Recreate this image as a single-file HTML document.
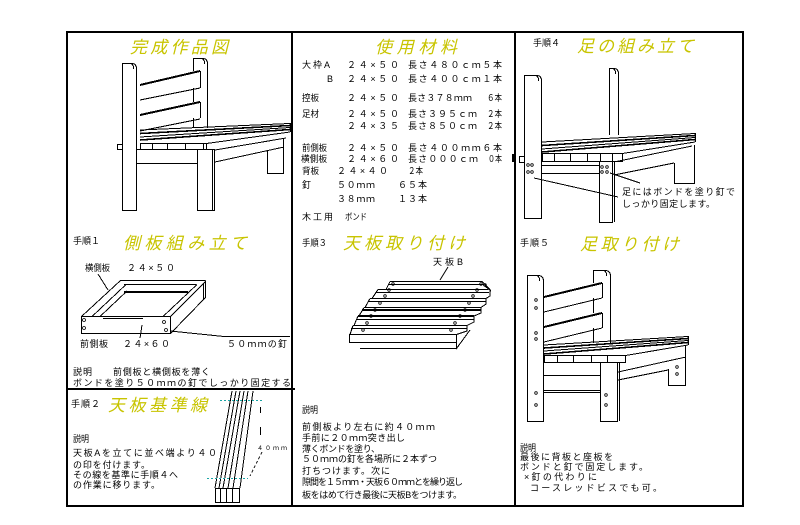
<!DOCTYPE html>
<html><head><meta charset="utf-8">
<style>
html,body{margin:0;padding:0;background:#fff;}
svg{display:block;}
text{font-family:"Liberation Sans","Noto Sans CJK JP",sans-serif;font-size:9px;fill:#000;}
.t{font-size:17px;font-style:italic;fill:#c8c400;}
</style></head><body>
<svg width="800" height="525" viewBox="0 0 800 525" xmlns="http://www.w3.org/2000/svg">
<rect width="800" height="525" fill="#fff"/>
<!-- frame -->
<g fill="none" stroke="#000" stroke-width="2">
<rect x="67" y="32" width="676" height="474"/>
<line x1="292" y1="32" x2="292" y2="506"/>
<line x1="515" y1="32" x2="515" y2="506"/>
<line x1="67" y1="389" x2="295" y2="389"/>
</g>
<rect x="512" y="154" width="3" height="8" fill="#000"/>

<g fill="none" stroke="#000" stroke-width="1" shape-rendering="crispEdges">
<!-- ===== Panel 1 chair ===== -->
<path d="M122.5,210.5V63.5H132Q136.5,63.5 136.5,69V210.5Z"/>
<path d="M131,63.5Q134,65 133.5,69"/>
<rect x="117.5" y="144.5" width="5" height="5"/>
<path d="M193.5,71V58.5H203Q207.5,58.5 207.5,64V128"/>
<path d="M202,58.5Q205,60 204.5,64"/>
<line x1="140" y1="85" x2="200" y2="71" stroke-width="2"/>
<path d="M200.5,71V88"/>
<line x1="140" y1="100" x2="200" y2="88"/>
<line x1="140" y1="115" x2="200" y2="102" stroke-width="2"/>
<path d="M200.5,102V118"/>
<line x1="140" y1="131" x2="200" y2="119"/>
<path d="M193.5,88V102M193.5,118V128"/>
<line x1="140" y1="130" x2="290" y2="123.5"/>
<line x1="140" y1="133.5" x2="290" y2="125.5" stroke-width="1.6"/>
<line x1="140" y1="137" x2="290" y2="127.5"/>
<line x1="140" y1="140" x2="290" y2="129.5" stroke-width="1.6"/>
<path d="M290.5,123V132"/>
<rect x="140.5" y="143.5" width="66" height="6"/>
<path d="M152.5,143.5V149.5M167.5,143.5V149.5M185.5,143.5V149.5M203.5,143.5V149.5"/>
<line x1="206.5" y1="143.5" x2="290" y2="132"/>
<line x1="215" y1="150" x2="286" y2="138"/>
<line x1="215" y1="162" x2="284" y2="147"/>
<rect x="197.5" y="149.5" width="17" height="61"/>
<path d="M212.5,150V210"/>
<path d="M267.5,150V173.5H283.5V138"/>
<path d="M137,163.5H197M137,149.5H197"/>

<!-- ===== Panel 3 chair (手順4) ===== -->
<path d="M524.5,218.5V75.5H537Q541.5,75.5 541.5,81V218.5Z"/>
<path d="M536,75.5Q539,77 538.5,81"/>
<rect x="519.5" y="156.5" width="5" height="6"/>
<path d="M609.5,135V68.5H614Q618.5,68.5 618.5,74V135"/>
<path d="M613,68.5Q616,70 615.5,74"/>
<line x1="542" y1="142" x2="695" y2="133.5"/>
<line x1="542" y1="145.5" x2="695" y2="135.5" stroke-width="1.6"/>
<line x1="542" y1="149" x2="695" y2="137.5"/>
<line x1="542" y1="152" x2="695" y2="139.5" stroke-width="1.6"/>
<path d="M695.5,133V142"/>
<rect x="542.5" y="153.5" width="80" height="8"/>
<path d="M554.5,153.5V161.5M570.5,153.5V161.5M587.5,153.5V161.5M600.5,153.5V161.5M612.5,153.5V161.5"/>
<line x1="622.5" y1="153.5" x2="695" y2="142"/>
<line x1="614" y1="162" x2="692" y2="146"/>
<line x1="614" y1="175" x2="674" y2="163"/>
<rect x="599.5" y="161.5" width="13" height="61"/>
<path d="M614.5,162V222"/>
<path d="M674.5,163V183.5H694.5V145"/>
<path d="M541.5,165.5H599.5M541.5,173.5H599.5"/>
<line x1="534" y1="178" x2="618" y2="197"/>
<line x1="610" y1="173" x2="640" y2="183"/>

<!-- ===== Panel 手順5 chair ===== -->
<path d="M527.5,421.5V275.5H538Q543.5,275.5 543.5,281V421.5Z"/>
<path d="M537,275.5Q540,277 539.5,281"/>
<path d="M593.5,283V270.5H605Q610.5,270.5 610.5,276V343"/>
<path d="M604,270.5Q607,272 606.5,276"/>
<line x1="544" y1="297" x2="602" y2="283" stroke-width="2"/>
<path d="M602.5,283V298"/>
<line x1="544" y1="312" x2="602" y2="298"/>
<line x1="544" y1="327" x2="602" y2="313" stroke-width="2"/>
<path d="M602.5,313V328"/>
<line x1="544" y1="342" x2="602" y2="328"/>
<path d="M593.5,298V313M593.5,328V343"/>
<line x1="544" y1="345" x2="688" y2="336.5"/>
<line x1="544" y1="348" x2="688" y2="338.5" stroke-width="1.6"/>
<line x1="544" y1="351" x2="688" y2="340.5"/>
<line x1="544" y1="354" x2="688" y2="342.5" stroke-width="1.6"/>
<path d="M688.5,336V345"/>
<rect x="544.5" y="355.5" width="81" height="7"/>
<path d="M557.5,355.5V362.5M573.5,355.5V362.5M591.5,355.5V362.5M607.5,355.5V362.5"/>
<line x1="625.5" y1="355.5" x2="688" y2="345"/>
<rect x="600.5" y="362.5" width="17" height="59"/>
<path d="M619.5,363V421"/>
<line x1="618" y1="372" x2="686" y2="357"/>
<line x1="618" y1="380" x2="668" y2="370"/>
<path d="M668.5,369V385.5H685.5V346"/>
<path d="M543,375.5H600M543,390.5H600M543,392.5H600"/>

<!-- ===== Panel 手順1 box ===== -->
<rect x="81.5" y="316.5" width="89" height="17"/>
<path d="M170.5,316.5L205.5,281.5V297.5L170.5,333.5"/>
<path d="M81.5,316.5L120.5,280.5H205.5"/>
<path d="M124,284.5H196"/>
<line x1="124" y1="292" x2="188" y2="292" stroke-width="2"/>
<line x1="92" y1="316.5" x2="126" y2="284.5"/>
<line x1="100" y1="316.5" x2="127" y2="291"/>
<line x1="163" y1="316.5" x2="197" y2="284.5"/>
<line x1="103" y1="318.5" x2="143" y2="318.5"/>
<path d="M203.5,284V299"/>
<line x1="98" y1="274" x2="108" y2="290"/>
<line x1="142" y1="325" x2="140" y2="338"/>
<path d="M170,331L224,336.5H290"/>

<!-- ===== Panel 手順2 boards ===== -->
<line x1="232" y1="391" x2="215" y2="488"/>
<line x1="236" y1="391" x2="219" y2="488"/>
<line x1="240" y1="391" x2="223" y2="488"/>
<line x1="244" y1="391" x2="228" y2="488"/>
<line x1="248" y1="391" x2="233" y2="488"/>
<line x1="253" y1="391" x2="240" y2="488"/>
<rect x="215.5" y="488.5" width="24" height="14"/>
<path d="M220.5,488.5V502.5M226.5,488.5V502.5M232.5,488.5V502.5"/>
<path d="M260.5,407V413M260.5,427V435"/>
<line x1="262" y1="452" x2="250" y2="476" stroke-dasharray="3,2"/>

<!-- ===== Panel 手順3 boards ===== -->
<line x1="390" y1="281.5" x2="482" y2="281.5"/>
<line x1="388" y1="284.5" x2="483" y2="284.5"/>
<line x1="378" y1="289.5" x2="488" y2="289.5"/>
<line x1="376" y1="292.5" x2="489" y2="292.5"/>
<line x1="370" y1="298.5" x2="486" y2="298.5"/>
<line x1="368" y1="301.5" x2="486" y2="301.5"/>
<line x1="364" y1="307.5" x2="481" y2="307.5"/>
<line x1="362" y1="310" x2="481" y2="310" stroke-width="2"/>
<line x1="358" y1="316" x2="474" y2="316" stroke-width="2"/>
<line x1="356" y1="319.5" x2="474" y2="319.5"/>
<line x1="353" y1="325.5" x2="467" y2="325.5"/>
<line x1="351" y1="328.5" x2="467" y2="328.5"/>
<rect x="349.5" y="334.5" width="107" height="8"/>
<line x1="360" y1="348.5" x2="456" y2="348.5"/>
<path d="M390,281.5L386,289.5M378,289.5L372,298.5M370,298.5L365,307.5M364,307.5L359,316M358,316L354,325.5M353,325.5L350,334.5"/>
<path d="M482,281.5L490,289.5V296L486,298.5V304L481,307.5V313L474,316V322L467,325.5V331L456.5,334.5V348.5L470,330"/>
<path d="M483,284.5L491,291"/>
</g>

<!-- holes -->
<g fill="none" stroke="#000" stroke-width="0.8">
<circle cx="528" cy="165" r="1.3"/><circle cx="532" cy="165" r="1.3"/>
<circle cx="528" cy="172" r="1.3"/><circle cx="532" cy="172" r="1.3"/>
<circle cx="602" cy="167" r="1.3"/><circle cx="607" cy="167" r="1.3"/>
<circle cx="602" cy="172" r="1.3"/><circle cx="607" cy="172" r="1.3"/>
<circle cx="536" cy="300" r="1.3"/><circle cx="536" cy="308" r="1.3"/>
<circle cx="536" cy="333" r="1.3"/><circle cx="536" cy="339" r="1.3"/>
<circle cx="536" cy="393" r="1.3"/><circle cx="536" cy="405" r="1.3"/>
<circle cx="606" cy="395" r="1.3"/><circle cx="606" cy="405" r="1.3"/>
<circle cx="677" cy="367" r="1.3"/><circle cx="677" cy="374" r="1.3"/>
<circle cx="84" cy="320" r="1.5"/><circle cx="84" cy="328" r="1.5"/>
<circle cx="164" cy="322" r="1.5"/><circle cx="166" cy="330" r="1.5"/>
<circle cx="393" cy="284" r="1.3"/><circle cx="389" cy="290" r="1.3"/>
<circle cx="385" cy="296" r="1.3"/><circle cx="380" cy="303" r="1.3"/>
<circle cx="375" cy="310" r="1.3"/><circle cx="371" cy="316" r="1.3"/>
<circle cx="367" cy="323" r="1.3"/><circle cx="363" cy="330" r="1.3"/>
<circle cx="481" cy="284" r="1.3"/><circle cx="477" cy="290" r="1.3"/>
<circle cx="473" cy="296" r="1.3"/><circle cx="469" cy="303" r="1.3"/>
<circle cx="465" cy="310" r="1.3"/><circle cx="460" cy="316" r="1.3"/>
<circle cx="455" cy="323" r="1.3"/><circle cx="451" cy="330" r="1.3"/>
<circle cx="485" cy="285" r="1.3"/>
</g>
<!-- cyan dashed -->
<g stroke="#1aa5a5" stroke-width="1" stroke-dasharray="2,2">
<line x1="220" y1="400.5" x2="262" y2="400.5"/>
<line x1="207" y1="478.5" x2="248" y2="478.5"/>
</g>

<!-- ===== Titles ===== -->
<text class="t" x="130" y="53" textLength="98" lengthAdjust="spacing">完成作品図</text>
<text class="t" x="375" y="53" textLength="82" lengthAdjust="spacing">使用材料</text>
<text class="t" x="577" y="52" textLength="117" lengthAdjust="spacing">足の組み立て</text>
<text class="t" x="123" y="249" textLength="124" lengthAdjust="spacing">側板組み立て</text>
<text class="t" x="343" y="249" textLength="122" lengthAdjust="spacing">天板取り付け</text>
<text class="t" x="580" y="250" textLength="99" lengthAdjust="spacing">足取り付け</text>
<text class="t" x="108" y="411" textLength="99" lengthAdjust="spacing">天板基準線</text>

<!-- ===== Materials ===== -->
<text x="302" y="68" textLength="28" lengthAdjust="spacing">大枠A</text>
<text x="347" y="68" textLength="52" lengthAdjust="spacing">２４×５０</text>
<text x="408" y="68" textLength="94" lengthAdjust="spacing">長さ４８０ｃｍ５本</text>
<text x="327" y="82">B</text>
<text x="347" y="82" textLength="52" lengthAdjust="spacing">２４×５０</text>
<text x="408" y="82" textLength="94" lengthAdjust="spacing">長さ４００ｃｍ１本</text>
<text x="302" y="101" textLength="17" lengthAdjust="spacingAndGlyphs">控板</text>
<text x="347" y="101" textLength="52" lengthAdjust="spacing">２４×５０</text>
<text x="408" y="101" textLength="64" lengthAdjust="spacing">長さ３７８ｍｍ</text>
<text x="487" y="101" textLength="15" lengthAdjust="spacingAndGlyphs">６本</text>
<text x="302" y="117" textLength="17" lengthAdjust="spacingAndGlyphs">足材</text>
<text x="347" y="117" textLength="52" lengthAdjust="spacing">２４×５０</text>
<text x="408" y="117" textLength="69" lengthAdjust="spacing">長さ３９５ｃｍ</text>
<text x="487" y="117" textLength="15" lengthAdjust="spacingAndGlyphs">２本</text>
<text x="347" y="129" textLength="52" lengthAdjust="spacing">２４×３５</text>
<text x="408" y="129" textLength="69" lengthAdjust="spacing">長さ８５０ｃｍ</text>
<text x="487" y="129" textLength="15" lengthAdjust="spacingAndGlyphs">２本</text>
<text x="302" y="151" textLength="25" lengthAdjust="spacingAndGlyphs">前側板</text>
<text x="347" y="151" textLength="52" lengthAdjust="spacing">２４×５０</text>
<text x="408" y="151" textLength="94" lengthAdjust="spacing">長さ４００ｍｍ６本</text>
<text x="301" y="162" textLength="26" lengthAdjust="spacingAndGlyphs">横側板</text>
<text x="347" y="162" textLength="52" lengthAdjust="spacing">２４×６０</text>
<text x="408" y="162" textLength="70" lengthAdjust="spacing">長さ０００ｃｍ</text>
<text x="488" y="162" textLength="14" lengthAdjust="spacingAndGlyphs">０本</text>
<text x="302" y="174" textLength="17" lengthAdjust="spacingAndGlyphs">背板</text>
<text x="337" y="174" textLength="51" lengthAdjust="spacing">２４×４０</text>
<text x="408" y="174" textLength="15" lengthAdjust="spacingAndGlyphs">２本</text>
<text x="302" y="188">釘</text>
<text x="337" y="188" textLength="38" lengthAdjust="spacing">５０ｍｍ</text>
<text x="398" y="188" textLength="29" lengthAdjust="spacing">６５本</text>
<text x="337" y="202" textLength="38" lengthAdjust="spacing">３８ｍｍ</text>
<text x="398" y="202" textLength="29" lengthAdjust="spacing">１３本</text>
<text x="302" y="220" textLength="31" lengthAdjust="spacing">木工用</text>
<text x="345" y="220" textLength="22" lengthAdjust="spacingAndGlyphs">ボンド</text>

<!-- ===== Panel 手順4 texts ===== -->
<text x="533" y="46" textLength="27" lengthAdjust="spacingAndGlyphs">手順４</text>
<text x="622" y="195" textLength="113" lengthAdjust="spacing">足にはボンドを塗り釘で</text>
<text x="622" y="207" textLength="93" lengthAdjust="spacing">しっかり固定します。</text>

<!-- ===== Panel 手順1 texts ===== -->
<text x="73" y="244" textLength="27" lengthAdjust="spacingAndGlyphs">手順１</text>
<text x="85" y="271" textLength="25" lengthAdjust="spacingAndGlyphs">横側板</text>
<text x="127" y="271" textLength="48" lengthAdjust="spacing">２４×５０</text>
<text x="80" y="347" textLength="28" lengthAdjust="spacing">前側板</text>
<text x="123" y="347" textLength="47" lengthAdjust="spacing">２４×６０</text>
<text x="227" y="347" textLength="60" lengthAdjust="spacing">５０ｍｍの釘</text>
<text x="73" y="375" textLength="19" lengthAdjust="spacing">説明</text>
<text x="113" y="375" textLength="97" lengthAdjust="spacing">前側板と横側板を薄く</text>
<text x="73" y="386" textLength="218" lengthAdjust="spacing">ボンドを塗り５０ｍｍの釘でしっかり固定する</text>

<!-- ===== Panel 手順2 texts ===== -->
<text x="71" y="407" textLength="29" lengthAdjust="spacing">手順２</text>
<text x="73" y="442" textLength="16" lengthAdjust="spacingAndGlyphs">説明</text>
<text x="73" y="456" textLength="144" lengthAdjust="spacing">天板Aを立てに並べ端より４０</text>
<text x="73" y="468" textLength="77" lengthAdjust="spacing">の印を付けます。</text>
<text x="73" y="478" textLength="105" lengthAdjust="spacing">その線を基準に手順４へ</text>
<text x="73" y="488" textLength="87" lengthAdjust="spacing">の作業に移ります。</text>
<text x="257" y="450" style="font-size:6px" textLength="30" lengthAdjust="spacing">４０ｍｍ</text>

<!-- ===== Panel 手順3 texts ===== -->
<text x="302" y="246" textLength="25" lengthAdjust="spacingAndGlyphs">手順３</text>
<text x="433" y="265" textLength="30" lengthAdjust="spacing">天板B</text>
<line x1="448" y1="267" x2="440" y2="280" stroke="#000" stroke-width="1"/>
<text x="302" y="413" textLength="16" lengthAdjust="spacingAndGlyphs">説明</text>
<text x="302" y="430" textLength="133" lengthAdjust="spacing">前側板より左右に約４０ｍｍ</text>
<text x="302" y="441" textLength="103" lengthAdjust="spacing">手前に２０ｍｍ突き出し</text>
<text x="302" y="452" textLength="78" lengthAdjust="spacing">薄くボンドを塗り、</text>
<text x="302" y="462" textLength="135" lengthAdjust="spacing">５０ｍｍの釘を各場所に２本ずつ</text>
<text x="302" y="474" textLength="88" lengthAdjust="spacing">打ちつけます。次に</text>
<text x="302" y="485" textLength="161" lengthAdjust="spacing">隙間を１５ｍｍ・天板６０ｍｍとを繰り返し</text>
<text x="302" y="498" textLength="160" lengthAdjust="spacing">板をはめて行き最後に天板Bをつけます。</text>

<!-- ===== Panel 手順5 texts ===== -->
<text x="520" y="246" textLength="29" lengthAdjust="spacing">手順５</text>
<text x="520" y="451" textLength="16" lengthAdjust="spacingAndGlyphs">説明</text>
<text x="520" y="460" textLength="93" lengthAdjust="spacing">最後に背板と座板を</text>
<text x="520" y="470" textLength="128" lengthAdjust="spacing">ボンドと釘で固定します。</text>
<text x="524" y="480" textLength="73" lengthAdjust="spacing">×釘の代わりに</text>
<text x="530" y="491" textLength="132" lengthAdjust="spacing">コースレッドビスでも可。</text>
</svg>
</body></html>
